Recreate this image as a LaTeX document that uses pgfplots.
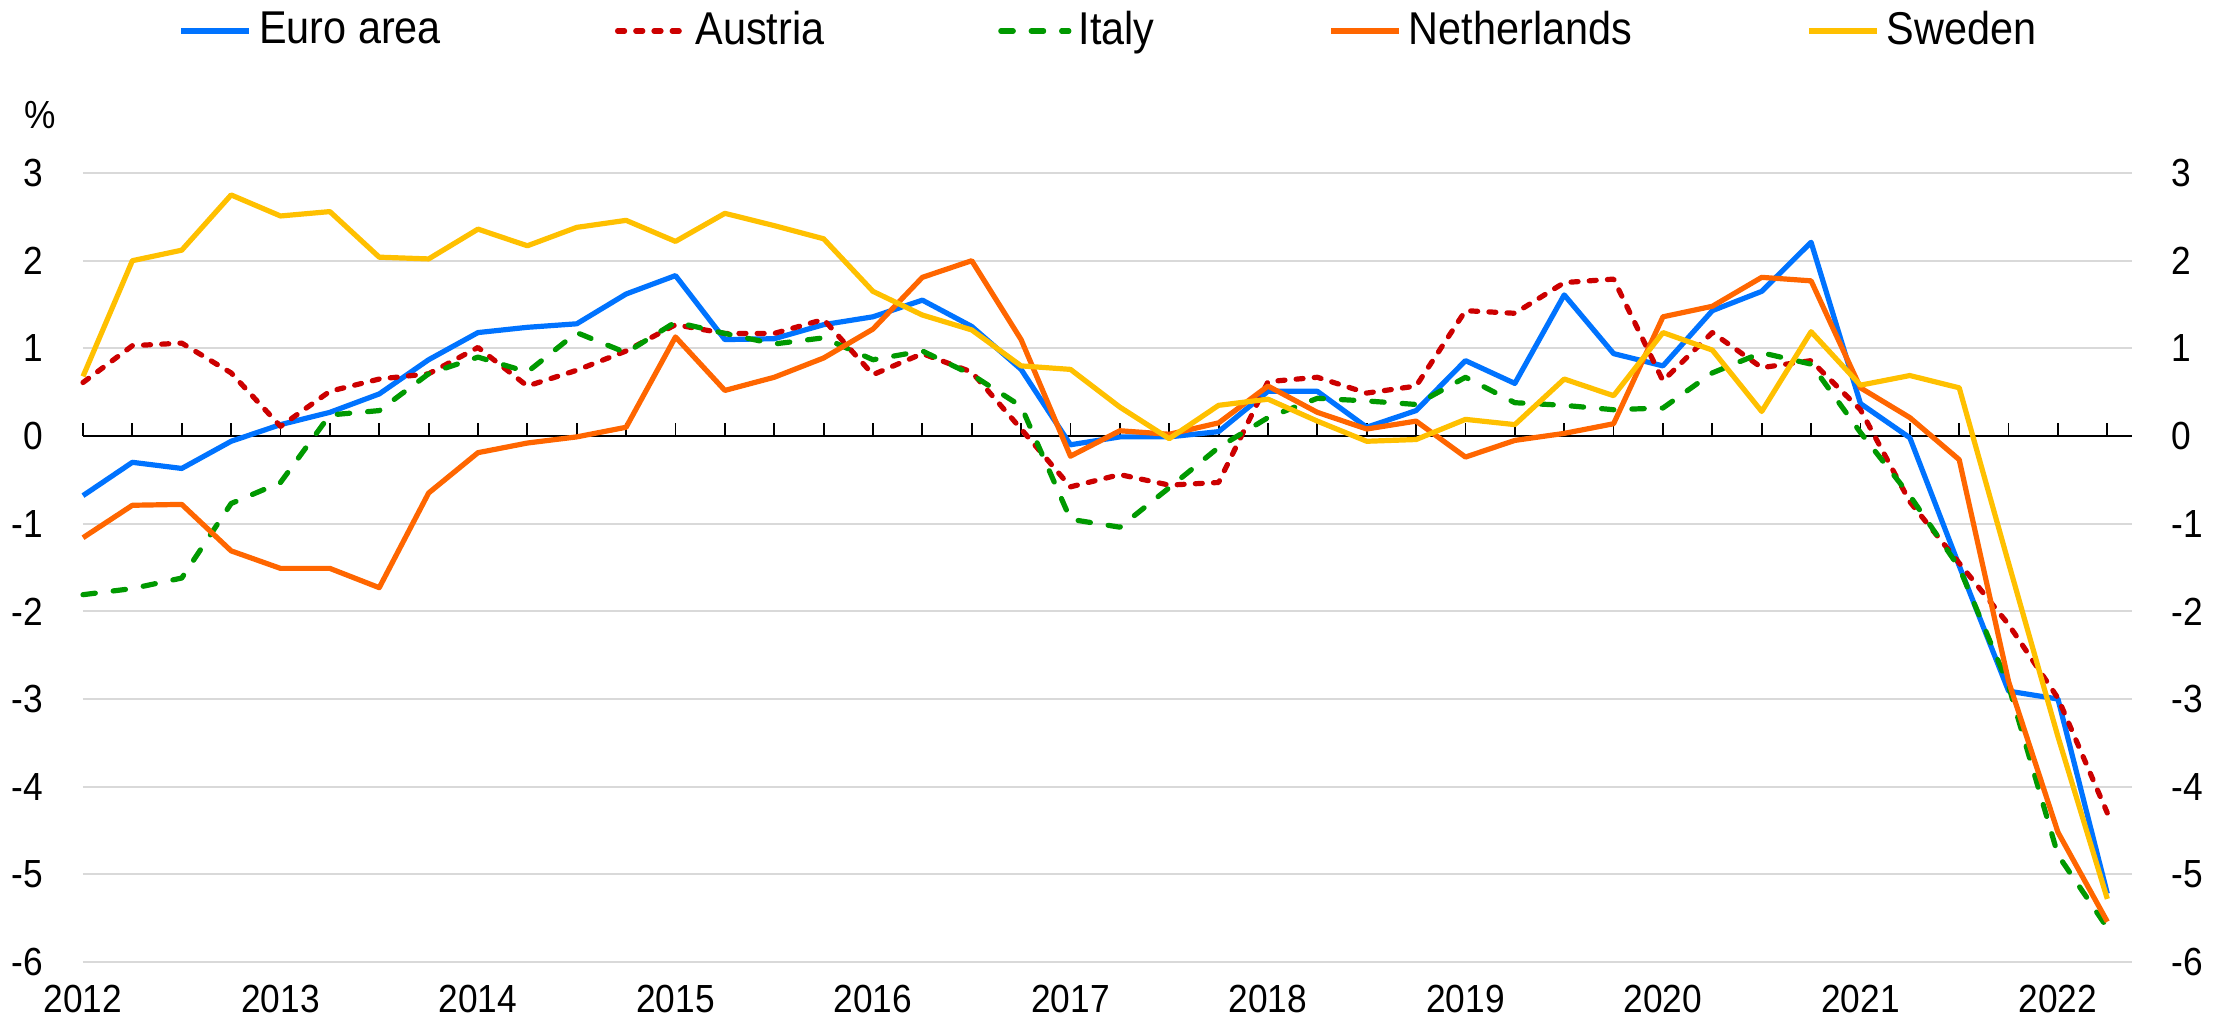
\documentclass[border=0pt]{standalone}
\usepackage{fontspec}
\setmainfont{Liberation Sans}[FakeStretch=0.9]
\usepackage{pgfplots}
\usepackage{pgfplotstable}
\pgfplotsset{compat=1.18}

\definecolor{euroblue}{RGB}{0,115,255}
\definecolor{atred}{RGB}{204,0,0}
\definecolor{itgreen}{RGB}{0,153,0}
\definecolor{nlorange}{RGB}{255,102,0}
\definecolor{seyellow}{RGB}{255,192,0}
\definecolor{gridgrey}{RGB}{217,217,217}

% quarterly, 0 = 2012Q1
\pgfplotstableread{
q  euro  austria italy  nl     sweden
0  -0.68  0.61  -1.81  -1.16   0.68
1  -0.30  1.03  -1.74  -0.79   2.00
2  -0.37  1.06  -1.62  -0.78   2.12
3  -0.06  0.72  -0.77  -1.31   2.75
4   0.13  0.11  -0.53  -1.51   2.51
5   0.27  0.51   0.24  -1.51   2.56
6   0.48  0.65   0.29  -1.73   2.04
7   0.87  0.71   0.71  -0.65   2.02
8   1.18  1.01   0.90  -0.19   2.36
9   1.24  0.57   0.73  -0.08   2.17
10  1.28  0.75   1.18  -0.01   2.38
11  1.62  0.97   0.95   0.10   2.46
12  1.83  1.27   1.30   1.13   2.22
13  1.10  1.17   1.17   0.52   2.54
14  1.11  1.17   1.05   0.67   2.40
15  1.27  1.33   1.12   0.89   2.25
16  1.36  0.70   0.87   1.22   1.65
17  1.55  0.94   0.97   1.81   1.38
18  1.25  0.73   0.70   2.00   1.21
19  0.76  0.08   0.34   1.10   0.80
20 -0.10 -0.58  -0.95  -0.23   0.76
21 -0.01 -0.44  -1.04   0.06   0.33
22 -0.01 -0.56  -0.59   0.02  -0.03
23  0.05 -0.53  -0.13   0.15   0.35
24  0.51  0.62   0.21   0.57   0.42
25  0.51  0.67   0.43   0.27   0.17
26  0.10  0.49   0.40   0.08  -0.06
27  0.29  0.57   0.36   0.17  -0.04
28  0.86  1.43   0.67  -0.24   0.19
29  0.60  1.40   0.38  -0.05   0.13
30  1.61  1.75   0.35   0.03   0.65
31  0.94  1.79   0.30   0.14   0.46
32  0.80  0.63   0.32   1.36   1.18
33  1.43  1.18   0.72   1.48   0.98
34  1.65  0.78   0.95   1.81   0.28
35  2.21  0.86   0.82   1.77   1.19
36  0.37  0.30   0.04   0.55   0.58
37 -0.02 -0.75  -0.68   0.21   0.69
38 -1.48 -1.45  -1.50  -0.27   0.55
39 -2.91 -2.15  -2.85  -2.80  -1.45
40 -3.00 -2.99  -4.78  -4.52  -3.43
41 -5.22 -4.30  -5.61  -5.54  -5.28
}\gdp

\begin{document}
\begin{tikzpicture}
\useasboundingbox (0,0) rectangle (557.25pt,255pt);

\begin{axis}[
    at={(20.75pt,14.5pt)}, anchor=south west,
    scale only axis,
    width=512.25pt, height=197.25pt,
    xmin=0, xmax=41.5,
    ymin=-6, ymax=3,
    clip=false,
    axis lines*=left,
    axis line style={draw=none},
    major tick length=0pt,
    xtick={0,4,...,40},
    xticklabels={2012,2013,2014,2015,2016,2017,2018,2019,2020,2021,2022},
    ytick={-6,-5,...,3},
    yticklabels={-6,-5,-4,-3,-2,-1,0,1,2,3},
    ymajorgrids,
    major grid style={gridgrey, line width=0.45pt},
    tick label style={font=\fontsize{9.8}{11}\selectfont, inner sep=0pt},
    xticklabel style={anchor=center, yshift=-9.25pt},
    yticklabel style={anchor=east, xshift=-9.75pt},
    legend columns=5,
    legend style={
        at={(0.5,1.180)}, anchor=center,
        draw=none, fill=none,
        font=\fontsize{11.5}{13}\selectfont,
        inner sep=0pt,
        nodes={inner sep=0pt},
        /tikz/every odd column/.append style={column sep=1.8pt},
        /tikz/every even column/.append style={column sep=43.5pt},
    },
    legend image code/.code={\draw[#1] (0pt,0pt) -- (17pt,0pt);},
    every axis plot/.append style={line width=1.3pt, line join=round},
]
\draw[black, line width=0.5pt] (axis cs:0,0) -- (axis cs:41.5,0);
\pgfplotsinvokeforeach{0,...,41}{
    \draw[black, line width=0.45pt] (axis cs:#1,0) -- ++(0pt,3.25pt);
}

\addplot[euroblue] table[x=q, y=euro] {\gdp};
\addlegendentry{Euro area}
\addplot[atred, line cap=round, dash pattern=on 1.75pt off 2.8pt] table[x=q, y=austria] {\gdp};
\addlegendentry{Austria}
\addplot[itgreen, line cap=round, dash pattern=on 3.1pt off 4.5pt] table[x=q, y=italy] {\gdp};
\addlegendentry{Italy}
\addplot[nlorange] table[x=q, y=nl] {\gdp};
\addlegendentry{Netherlands}
\addplot[seyellow] table[x=q, y=sweden] {\gdp};
\addlegendentry{Sweden}

\node[font=\fontsize{9.8}{11}\selectfont] at (axis description cs:-0.021,1.074) {\%};
\end{axis}

% right-hand scale
\begin{axis}[
    at={(20.75pt,14.5pt)}, anchor=south west,
    scale only axis,
    width=512.25pt, height=197.25pt,
    xmin=0, xmax=41.5,
    ymin=-6, ymax=3,
    hide x axis,
    axis y line*=right,
    y axis line style={draw=none},
    major tick length=0pt,
    ytick={-6,-5,...,3},
    yticklabels={-6,-5,-4,-3,-2,-1,0,1,2,3},
    yticklabel style={font=\fontsize{9.8}{11}\selectfont, inner sep=0pt, anchor=west, xshift=9.75pt},
]
\node[font=\fontsize{9.8}{11}\selectfont] at (axis description cs:1.021,1.074) {\%};
\end{axis}
\end{tikzpicture}
\end{document}
